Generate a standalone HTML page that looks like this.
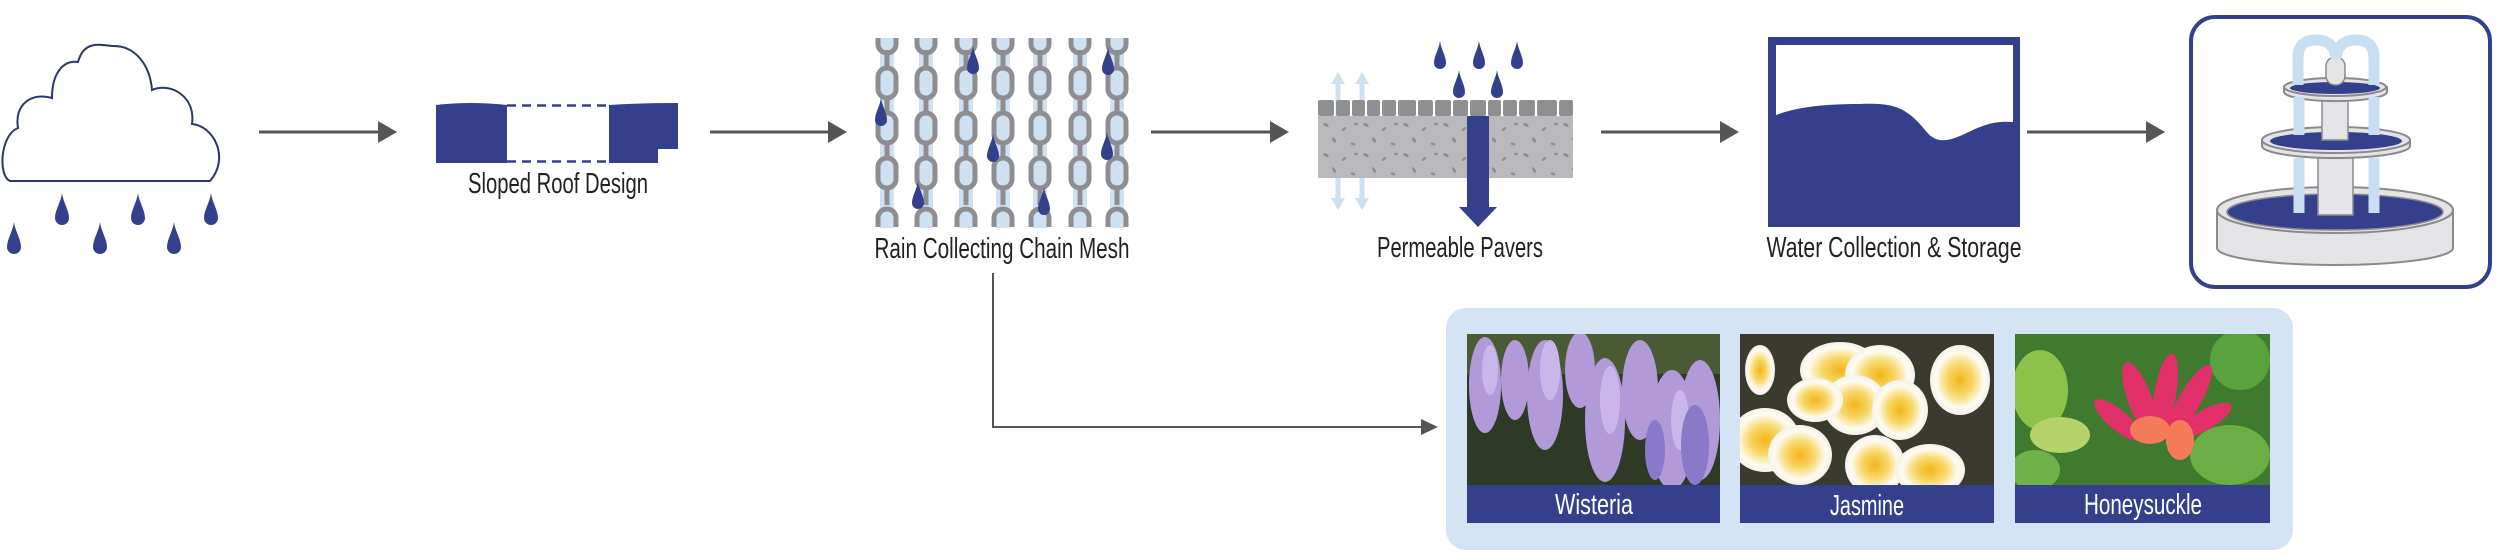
<!DOCTYPE html>
<html><head><meta charset="utf-8"><style>
html,body{margin:0;padding:0;background:#fff;}
svg{display:block;}
text{font-family:"Liberation Sans Narrow","Liberation Sans",sans-serif;}
</style></head><body>
<svg width="2500" height="555" viewBox="0 0 2500 555" xmlns="http://www.w3.org/2000/svg">
<defs>
<path id="drop" d="M0,0 C1,9 7,17 7,25 A7,7 0 0 1 -7,25 C-7,17 -1,9 0,0Z" fill="#34408c"/>
<path id="ddrop" d="M0,0 C1,8 6,15 6,22 A6,6 0 0 1 -6,22 C-6,15 -1,8 0,0Z" fill="#34408c"/>
<pattern id="grav" width="40" height="30" patternUnits="userSpaceOnUse">
<rect width="40" height="30" fill="#b9b9bb"/>
<ellipse cx="6" cy="5" rx="3" ry="1.5" fill="#8d8d92" transform="rotate(30 6 5)"/>
<ellipse cx="24" cy="9" rx="2.5" ry="1.3" fill="#8d8d92" transform="rotate(-40 24 9)"/>
<ellipse cx="14" cy="20" rx="3" ry="1.5" fill="#8d8d92" transform="rotate(60 14 20)"/>
<ellipse cx="33" cy="24" rx="2.5" ry="1.3" fill="#8d8d92" transform="rotate(20 33 24)"/>
<ellipse cx="36" cy="4" rx="2" ry="1.2" fill="#8d8d92"/>
</pattern>
<g id="chain">
<rect x="-7" y="38" width="14" height="190" fill="#cfe1f1"/>
<path d="M-9,38 V44 A9,9 0 0 0 9,44 V38" fill="none" stroke="#8e8e92" stroke-width="5"/>
<line x1="0" y1="50" x2="0" y2="70" stroke="#8e8e92" stroke-width="5"/>
<rect x="-9" y="68" width="18" height="30" rx="9" fill="none" stroke="#8e8e92" stroke-width="5"/>
<line x1="0" y1="96" x2="0" y2="115" stroke="#8e8e92" stroke-width="5"/>
<rect x="-9" y="113" width="18" height="30" rx="9" fill="none" stroke="#8e8e92" stroke-width="5"/>
<line x1="0" y1="141" x2="0" y2="160" stroke="#8e8e92" stroke-width="5"/>
<rect x="-9" y="158" width="18" height="30" rx="9" fill="none" stroke="#8e8e92" stroke-width="5"/>
<line x1="0" y1="186" x2="0" y2="205" stroke="#8e8e92" stroke-width="5"/>
<path d="M-9,227 V218 A9,9 0 0 1 9,218 V227" fill="none" stroke="#8e8e92" stroke-width="5"/>
</g>
<clipPath id="c1"><rect x="1467" y="334" width="253" height="151"/></clipPath>
<clipPath id="c2"><rect x="1740" y="334" width="254" height="151"/></clipPath>
<clipPath id="c3"><rect x="2015" y="334" width="255" height="151"/></clipPath>
<radialGradient id="jas" cx="0.5" cy="0.5" r="0.5"><stop offset="0" stop-color="#f2b51a"/><stop offset="0.45" stop-color="#f7d86a"/><stop offset="0.8" stop-color="#fdfbf2"/><stop offset="1" stop-color="#f3f1ea"/></radialGradient>
</defs>

<!-- cloud -->
<path d="M10,181 C-2,176 0,135 18,128 C14,104 32,92 52,98 C52,72 64,60 78,62 C84,40 100,45 112,46 C135,45 150,65 152,90 C170,82 196,96 192,124 C214,126 230,158 210,181 Z" fill="#fff" stroke="#2c3670" stroke-width="2"/>
<use href="#drop" x="62" y="193"/><use href="#drop" x="138" y="193"/><use href="#drop" x="211" y="193"/>
<use href="#drop" x="14" y="222"/><use href="#drop" x="100" y="222"/><use href="#drop" x="174" y="222"/>

<!-- arrows -->
<g stroke="#555" stroke-width="3" fill="#555">
<line x1="259" y1="132" x2="382" y2="132"/><polygon points="378,121 397,132 378,143" stroke="none"/>
<line x1="710" y1="132" x2="832" y2="132"/><polygon points="828,121 847,132 828,143" stroke="none"/>
<line x1="1151" y1="132" x2="1272" y2="132"/><polygon points="1270,121 1289,132 1270,143" stroke="none"/>
<line x1="1601" y1="132" x2="1722" y2="132"/><polygon points="1720,121 1739,132 1720,143" stroke="none"/>
<line x1="2027" y1="132" x2="2150" y2="132"/><polygon points="2146,121 2165,132 2146,143" stroke="none"/>
</g>
<g stroke="#555" stroke-width="2" fill="none">
<polyline points="993,273 993,427 1424,427"/>
</g>
<polygon points="1421,419 1438,427 1421,435" fill="#555"/>

<!-- roof -->
<path d="M436,105 Q470,101 507,105 V163 H436Z" fill="#34408c"/>
<path d="M609,105 Q640,103 678,103 V149 H658 V163 H609Z" fill="#34408c"/>
<line x1="507" y1="105.5" x2="609" y2="105.5" stroke="#34408c" stroke-width="2.5" stroke-dasharray="9,6"/>
<line x1="507" y1="161.5" x2="609" y2="161.5" stroke="#34408c" stroke-width="2.5" stroke-dasharray="9,6"/>
<text x="558" y="193" text-anchor="middle" font-size="29" fill="#222" textLength="180" lengthAdjust="spacingAndGlyphs">Sloped Roof Design</text>

<!-- chains -->
<use href="#chain" x="887"/><use href="#chain" x="926"/><use href="#chain" x="966"/><use href="#chain" x="1003"/>
<use href="#chain" x="1040"/><use href="#chain" x="1080"/><use href="#chain" x="1117"/>
<use href="#ddrop" x="973" y="46"/><use href="#ddrop" x="1108" y="47"/><use href="#ddrop" x="881" y="98"/>
<use href="#ddrop" x="993" y="134"/><use href="#ddrop" x="1107" y="132"/><use href="#ddrop" x="918" y="181"/><use href="#ddrop" x="1044" y="187"/>
<text x="1002" y="258" text-anchor="middle" font-size="29" fill="#222" textLength="255" lengthAdjust="spacingAndGlyphs">Rain Collecting Chain Mesh</text>

<!-- pavers -->
<g stroke="#cfe1f1" stroke-width="5" fill="#cfe1f1">
<line x1="1338" y1="82" x2="1338" y2="200"/><line x1="1362" y1="82" x2="1362" y2="200"/>
<polygon points="1331,84 1338,72 1345,84" stroke="none"/><polygon points="1355,84 1362,72 1369,84" stroke="none"/>
<polygon points="1331,198 1338,210 1345,198" stroke="none"/><polygon points="1355,198 1362,210 1369,198" stroke="none"/>
</g>
<rect x="1318" y="116" width="255" height="62" fill="url(#grav)"/>
<g fill="#8f8f92">
<rect x="1318" y="100" width="16" height="16" rx="2"/><rect x="1336" y="100" width="14" height="16" rx="2"/><rect x="1352" y="100" width="13" height="16" rx="2"/>
<rect x="1367" y="100" width="13" height="16" rx="2"/><rect x="1382" y="100" width="14" height="16" rx="2"/><rect x="1398" y="100" width="18" height="16" rx="2"/>
<rect x="1418" y="100" width="15" height="16" rx="2"/><rect x="1435" y="100" width="16" height="16" rx="2"/><rect x="1453" y="100" width="15" height="16" rx="2"/>
<rect x="1470" y="100" width="16" height="16" rx="2"/><rect x="1488" y="100" width="13" height="16" rx="2"/><rect x="1503" y="100" width="14" height="16" rx="2"/>
<rect x="1519" y="100" width="16" height="16" rx="2"/><rect x="1537" y="100" width="20" height="16" rx="2"/><rect x="1559" y="100" width="14" height="16" rx="2"/>
</g>
<rect x="1467" y="116" width="22" height="93" fill="#34408c"/>
<polygon points="1459,207 1497,207 1478,227" fill="#34408c"/>
<use href="#ddrop" x="1440" y="41"/><use href="#ddrop" x="1479" y="41"/><use href="#ddrop" x="1517" y="41"/>
<use href="#ddrop" x="1459" y="70"/><use href="#ddrop" x="1497" y="70"/>
<text x="1460" y="257" text-anchor="middle" font-size="29" fill="#222" textLength="166" lengthAdjust="spacingAndGlyphs">Permeable Pavers</text>

<!-- tank -->
<rect x="1768" y="37" width="252" height="190" fill="#34408c"/>
<path d="M1776,45 H2013 V122 C1990,120 1978,128 1960,136 C1945,142 1935,143 1925,130 C1905,105 1890,103 1860,104 C1810,104 1790,110 1776,115 Z" fill="#fff"/>
<text x="1894" y="257" text-anchor="middle" font-size="29" fill="#222" textLength="255" lengthAdjust="spacingAndGlyphs">Water Collection &amp; Storage</text>

<!-- fountain -->
<rect x="2191" y="17" width="299" height="270" rx="24" fill="#fff" stroke="#34408c" stroke-width="4"/>
<path d="M2217,210 V248 A118,17 0 0 0 2453,248 V210 Z" fill="#e4e4e6" stroke="#8a8a8e" stroke-width="2"/>
<ellipse cx="2335" cy="210" rx="118" ry="23" fill="#e4e4e6" stroke="#8a8a8e" stroke-width="2"/>
<ellipse cx="2335" cy="212" rx="108" ry="18" fill="#34408c" stroke="#8a8a8e" stroke-width="1.5"/>
<rect x="2318" y="150" width="35" height="65" fill="#e4e4e6" stroke="#8a8a8e" stroke-width="1.5"/>
<path d="M2262,140 V146 A74,12 0 0 0 2410,146 V140 Z" fill="#e4e4e6" stroke="#8a8a8e" stroke-width="2"/>
<ellipse cx="2336" cy="140" rx="74" ry="13" fill="#e4e4e6" stroke="#8a8a8e" stroke-width="2"/>
<ellipse cx="2336" cy="141" rx="66" ry="9" fill="#34408c"/>
<rect x="2322" y="96" width="26" height="44" fill="#e4e4e6" stroke="#8a8a8e" stroke-width="1.5"/>
<path d="M2284,87 V92 A51,9 0 0 0 2387,92 V87 Z" fill="#e4e4e6" stroke="#8a8a8e" stroke-width="2"/>
<ellipse cx="2335" cy="87" rx="51" ry="9" fill="#e4e4e6" stroke="#8a8a8e" stroke-width="2"/>
<ellipse cx="2335" cy="88" rx="45" ry="6" fill="#34408c"/>
<rect x="2326" y="57" width="19" height="28" rx="9" fill="#e4e4e6" stroke="#8a8a8e" stroke-width="1.5"/>
<g stroke="#c8def2" stroke-width="11" fill="none">
<path d="M2298,85 V58 Q2298,40 2316,40 Q2334,40 2336,58 Q2338,40 2356,40 Q2374,40 2374,58 V85"/>
<line x1="2299" y1="97" x2="2299" y2="135"/><line x1="2374" y1="97" x2="2374" y2="135"/>
<line x1="2299" y1="158" x2="2299" y2="213"/><line x1="2374" y1="158" x2="2374" y2="213"/>
</g>

<!-- flower panel -->
<rect x="1446" y="308" width="847" height="242" rx="20" fill="#d4e4f4"/>
<g clip-path="url(#c1)">
<rect x="1467" y="334" width="253" height="151" fill="#2f3a26"/>
<rect x="1467" y="334" width="253" height="40" fill="#4a5a35"/>
<g fill="#b29ad9">
<ellipse cx="1485" cy="385" rx="16" ry="48"/><ellipse cx="1515" cy="380" rx="14" ry="40"/><ellipse cx="1545" cy="395" rx="18" ry="55"/>
<ellipse cx="1580" cy="370" rx="15" ry="38"/><ellipse cx="1605" cy="420" rx="20" ry="62"/><ellipse cx="1640" cy="390" rx="18" ry="50"/>
<ellipse cx="1672" cy="430" rx="22" ry="60"/><ellipse cx="1700" cy="420" rx="20" ry="60"/>
</g>
<g fill="#c9b6ea"><ellipse cx="1550" cy="370" rx="10" ry="30"/><ellipse cx="1610" cy="400" rx="10" ry="34"/><ellipse cx="1490" cy="370" rx="8" ry="25"/><ellipse cx="1680" cy="420" rx="9" ry="30"/></g>
<g fill="#8a78c8"><ellipse cx="1695" cy="445" rx="14" ry="40"/><ellipse cx="1655" cy="450" rx="10" ry="30"/></g>
</g>
<g clip-path="url(#c2)">
<rect x="1740" y="334" width="254" height="151" fill="#3a3b2e"/>
<g fill="url(#jas)">
<ellipse cx="1840" cy="370" rx="40" ry="28"/><ellipse cx="1880" cy="375" rx="35" ry="30"/><ellipse cx="1855" cy="405" rx="32" ry="30"/>
<ellipse cx="1900" cy="410" rx="28" ry="30"/><ellipse cx="1815" cy="400" rx="28" ry="22"/>
<ellipse cx="1765" cy="440" rx="35" ry="32"/><ellipse cx="1800" cy="455" rx="32" ry="30"/>
<ellipse cx="1875" cy="465" rx="30" ry="30"/><ellipse cx="1930" cy="470" rx="35" ry="26"/>
<ellipse cx="1960" cy="380" rx="30" ry="35"/><ellipse cx="1760" cy="370" rx="15" ry="25"/>
</g>
</g>
<g clip-path="url(#c3)">
<rect x="2015" y="334" width="255" height="151" fill="#3f7a2e"/>
<ellipse cx="2040" cy="390" rx="28" ry="40" fill="#8cc14a"/><ellipse cx="2060" cy="435" rx="30" ry="18" fill="#b5d36a"/>
<ellipse cx="2240" cy="360" rx="30" ry="30" fill="#5aa23c"/><ellipse cx="2230" cy="455" rx="40" ry="30" fill="#6aae44"/>
<ellipse cx="2035" cy="470" rx="25" ry="20" fill="#70b24a"/>
<g fill="#e2316a">
<ellipse cx="2140" cy="400" rx="12" ry="40" transform="rotate(-20 2140 400)"/><ellipse cx="2165" cy="395" rx="11" ry="42" transform="rotate(10 2165 395)"/>
<ellipse cx="2190" cy="400" rx="11" ry="40" transform="rotate(30 2190 400)"/><ellipse cx="2118" cy="420" rx="10" ry="30" transform="rotate(-50 2118 420)"/>
<ellipse cx="2205" cy="420" rx="10" ry="30" transform="rotate(60 2205 420)"/>
</g>
<g fill="#f47a5a"><ellipse cx="2150" cy="430" rx="20" ry="14"/><ellipse cx="2180" cy="440" rx="14" ry="20"/></g>
</g>
<g fill="#34408c">
<rect x="1467" y="485" width="253" height="38"/><rect x="1740" y="485" width="254" height="38"/><rect x="2015" y="485" width="255" height="38"/>
</g>
<g fill="#fff" font-size="29" text-anchor="middle">
<text x="1594" y="514" textLength="78" lengthAdjust="spacingAndGlyphs">Wisteria</text>
<text x="1867" y="515" textLength="74" lengthAdjust="spacingAndGlyphs">Jasmine</text>
<text x="2143" y="514" textLength="118" lengthAdjust="spacingAndGlyphs">Honeysuckle</text>
</g>
</svg>
</body></html>
